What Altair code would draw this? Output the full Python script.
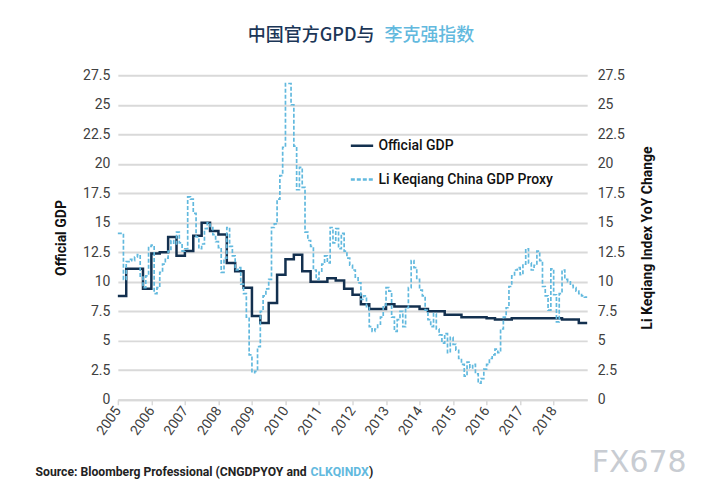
import altair as alt
import pandas as pd

# Official GDP, quarterly from 2005 Q1
gdp_official = [8.8, 11.1, 11.1, 9.4, 12.4, 12.5, 13.8, 12.2, 12.6, 13.9, 15.0, 14.3,
                14.0, 11.6, 10.9, 9.5, 7.1, 6.5, 8.2, 10.6, 11.9, 12.3, 10.9, 10.0,
                10.0, 10.3, 10.1, 9.4, 8.9, 8.1, 7.7, 7.7, 8.1, 7.9, 7.9, 7.9,
                7.7, 7.5, 7.5, 7.2, 7.2, 7.0, 7.0, 7.0, 6.9, 6.8, 6.8, 6.9,
                6.9, 6.9, 6.9, 6.9, 6.9, 6.8, 6.8, 6.5]

# Li Keqiang China GDP proxy, monthly from Jan 2005
li_keqiang = [14.1, 14.1, 10.2, 11.7, 11.9, 11.8, 12.1, 12.3, 10.4, 9.5, 10.5, 13.0,
              13.1, 9.0, 9.5, 10.8, 11.5, 12.0, 12.6, 13.5, 13.2, 14.2, 13.3, 12.6,
              12.8, 17.2, 17.0, 15.8, 13.8, 12.8, 13.2, 14.5, 15.0, 14.6, 14.0, 13.4,
              12.9, 10.8, 12.0, 14.6, 13.0, 12.2, 11.0, 11.2, 9.8, 9.0, 7.0, 3.8,
              2.3, 2.4, 4.5, 7.5, 8.8, 9.4, 10.2, 14.6, 14.9, 17.0, 19.0, 21.4,
              26.8, 26.8, 25.0, 21.5, 17.8, 19.7, 18.0, 14.2, 13.5, 13.0, 11.0, 10.2,
              10.8, 11.5, 12.2, 11.6, 14.6, 13.3, 14.5, 12.8, 14.1, 12.6, 12.0, 11.4,
              11.0, 10.4, 9.9, 8.5, 8.8, 7.9, 6.2, 5.8, 6.0, 6.4, 7.0, 8.0,
              9.5, 9.2, 7.0, 5.8, 6.8, 7.5, 6.2, 7.8, 9.5, 11.8, 11.2, 10.2,
              9.3, 8.8, 7.6, 6.8, 6.2, 7.3, 6.0, 5.5, 4.8, 5.6, 4.0, 5.3,
              4.7, 4.2, 3.5, 3.0, 2.0, 3.2, 2.7, 3.0, 2.2, 1.4, 1.8, 2.6,
              3.0, 3.5, 3.8, 4.3, 4.0, 6.0, 7.0, 7.8, 9.6, 10.5, 11.0, 11.2,
              10.6, 11.5, 12.8, 11.6, 11.0, 11.4, 12.6, 11.8, 9.6, 8.8, 7.6, 11.1,
              8.9, 6.6, 9.0, 11.0, 10.2, 10.0, 9.7, 9.5, 9.2, 9.0, 8.8, 8.7]

years = list(range(2005, 2019))
y_ticks = [0, 2.5, 5, 7.5, 10, 12.5, 15, 17.5, 20, 22.5, 25, 27.5]
series_names = ["Official GDP", "Li Keqiang China GDP Proxy"]
series_colors = ["#13304f", "#62b9de"]

NAVY = "#1b3657"
BLUE = "#62b9de"
FONT = "Roboto"

off_df = pd.DataFrame({
    "t": [2005 + i / 4 for i in range(len(gdp_official))] + [2019.0],
    "v": gdp_official + [gdp_official[-1]],
    "series": series_names[0],
})
li_df = pd.DataFrame({
    "t": [2005 + i / 12 for i in range(len(li_keqiang))] + [2019.0],
    "v": li_keqiang + [li_keqiang[-1]],
    "series": series_names[1],
})

x_enc = alt.X("t:Q",
              scale=alt.Scale(domain=[2005, 2019], nice=False, zero=False),
              axis=alt.Axis(values=years, format="d", labelAngle=305, title=None,
                            grid=False, domainColor="#d9d9d9", domainWidth=2,
                            tickColor="#d9d9d9", tickSize=5, tickWidth=1.5,
                            labelFontSize=14, labelColor="#404040", labelFont=FONT,
                            labelPadding=3))

legend_cfg = dict(orient="none", legendX=232, legendY=58, title=None,
                  symbolType="stroke", symbolSize=500, labelFontSize=14,
                  labelFont=FONT, labelFontWeight=500, labelColor="#111111",
                  rowPadding=14, symbolStrokeWidth=2.5, labelLimit=400)

color_enc = alt.Color("series:N",
                      scale=alt.Scale(domain=series_names, range=series_colors),
                      legend=alt.Legend(**legend_cfg))
dash_enc = alt.StrokeDash("series:N",
                          scale=alt.Scale(domain=series_names, range=[[1, 0], [4, 2]]),
                          legend=alt.Legend(**legend_cfg))

LABEL_EXPR = "datum.value + ''"
left_axis = alt.Axis(values=y_ticks, labelExpr=LABEL_EXPR, title="Official GDP",
                     orient="left", grid=True, gridColor="#d9d9d9", gridWidth=2,
                     domain=False, ticks=False, labelFontSize=14, labelColor="#404040",
                     labelFont=FONT, labelPadding=8, titleFont=FONT, titleFontSize=14,
                     titleFontWeight="bold", titleColor="#111111", titlePadding=14)
right_axis = alt.Axis(values=y_ticks, labelExpr=LABEL_EXPR,
                      title="Li Keqiang Index YoY Change", orient="right", grid=False,
                      domain=False, ticks=False, labelFontSize=14, labelColor="#404040",
                      labelFont=FONT, labelPadding=10, titleFont=FONT, titleFontSize=14,
                      titleFontWeight="bold", titleColor="#111111", titlePadding=30,
                      titleAngle=270)

official = alt.Chart(off_df).mark_line(interpolate="step-after", strokeWidth=2.5).encode(
    x=x_enc,
    y=alt.Y("v:Q", scale=alt.Scale(domain=[0, 27.5], nice=False), axis=left_axis),
    color=color_enc,
    strokeDash=dash_enc,
)
proxy = alt.Chart(li_df).mark_line(interpolate="step-after", strokeWidth=1.7).encode(
    x=x_enc,
    y=alt.Y("v:Q", scale=alt.Scale(domain=[0, 27.5], nice=False), axis=right_axis),
    color=color_enc,
    strokeDash=dash_enc,
)


def txt(text, x, y, color, size, weight="normal", align="left", font=FONT):
    return alt.Chart(pd.DataFrame({"label": [text]})).mark_text(
        align=align, baseline="middle", fontSize=size, fontWeight=weight,
        font=font, color=color
    ).encode(x=alt.value(x), y=alt.value(y), text="label:N")


CJK = "Noto Sans CJK SC"
title_a = txt("中国官方GPD与", 257, -39, NAVY, 18, 500, "right", CJK)
title_b = txt("李克强指数", 267, -39, BLUE, 18, 500, "left", CJK)
src_a = txt("Source: Bloomberg Professional (CNGDPYOY and", 189, 397, "#222222", 12.2, "bold", "right", FONT)
src_b = txt("CLKQINDX", 193, 397, BLUE, 12.2, "bold", "left", FONT)
src_c = txt(")", 251.5, 397, "#222222", 12.2, "bold", "left", FONT)
mark_wm = txt("FX678", 522, 388, "#c8ccd2", 30, "normal", "center", "DejaVu Sans")

lines = alt.layer(official, proxy).resolve_scale(y="independent")

chart = alt.layer(lines, title_a, title_b, src_a, src_b, src_c, mark_wm).properties(
    width=470, height=325,
    autosize=alt.AutoSizeParams(type="none"),
    padding={"left": 110, "top": 67, "right": 125, "bottom": 100},
    background="white",
).configure_view(stroke=None)

chart.save("out.html", embed_options={"renderer": "svg", "actions": False})
